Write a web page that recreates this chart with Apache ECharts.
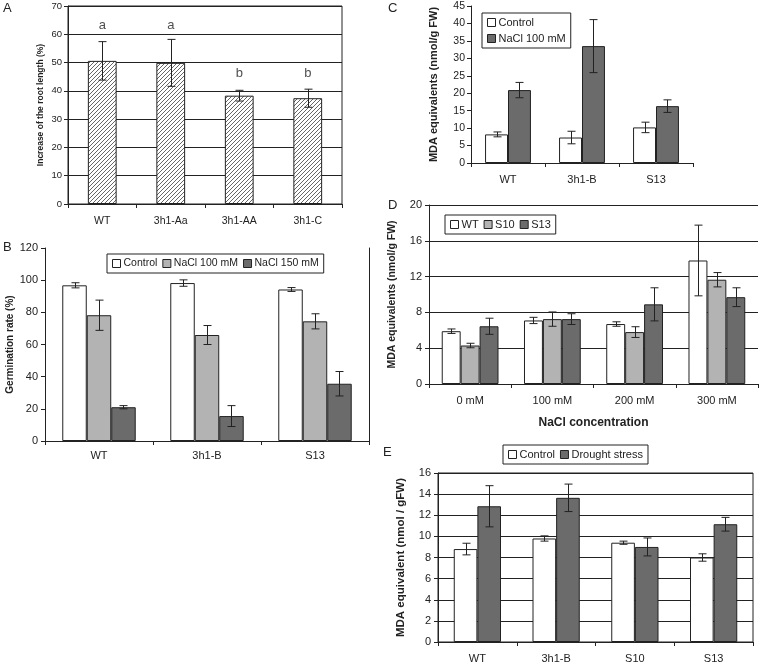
<!DOCTYPE html>
<html>
<head>
<meta charset="utf-8">
<script src="https://cdn.jsdelivr.net/npm/echarts@6/dist/echarts.min.js"></script>
<style>
	html, body { margin: 0; padding: 0; background: #fff; }
	#chart { width: 760px; height: 664px; }
</style>
</head>
<body>
<div id="chart"></div>
<script>
// A - root length
var catsA = ['WT', '3h1-Aa', '3h1-AA', '3h1-C'];
var rootInc = [50.6, 49.9, 38.3, 37.4];
var rootIncErr = [6.8, 8.3, 1.9, 3.2];
var lettersA = ['a', 'a', 'b', 'b'];
var lettersAY = [63, 63, 46.3, 46.3];

// B - germination
var catsB = ['WT', '3h1-B', 'S13'];
var germControl = [96.8, 98.2, 94.2];
var germControlErr = [1.6, 2.0, 1.2];
var germNaCl100 = [78.2, 65.9, 74.4];
var germNaCl100Err = [9.4, 5.9, 4.7];
var germNaCl150 = [21.0, 15.5, 35.6];
var germNaCl150Err = [1.0, 6.5, 7.6];

// C - MDA under salt
var catsC = ['WT', '3h1-B', 'S13'];
var mdaCControl = [8.2, 7.3, 10.2];
var mdaCControlErr = [0.7, 1.8, 1.5];
var mdaCNaCl = [20.9, 33.5, 16.3];
var mdaCNaClErr = [2.2, 7.6, 1.8];

// D - MDA vs NaCl concentration
var catsD = ['0 mM', '100 mM', '200 mM', '300 mM'];
var mdaDWT = [5.9, 7.1, 6.7, 13.8];
var mdaDWTErr = [0.25, 0.35, 0.25, 3.95];
var mdaDS10 = [4.3, 7.25, 5.8, 11.65];
var mdaDS10Err = [0.25, 0.8, 0.6, 0.8];
var mdaDS13 = [6.45, 7.25, 8.9, 9.7];
var mdaDS13Err = [0.9, 0.6, 1.85, 1.05];

// E - MDA drought
var catsE = ['WT', '3h1-B', 'S10', 'S13'];
var mdaEControl = [8.8, 9.8, 9.4, 8.0];
var mdaEControlErr = [0.55, 0.25, 0.15, 0.35];
var mdaEDrought = [12.85, 13.65, 9.0, 11.15];
var mdaEDroughtErr = [1.95, 1.3, 0.85, 0.65];

var FONT = '"Liberation Sans", Arial, sans-serif';
var INK = '#222';
var WHITE = '#ffffff';
var LIGHT = '#b3b3b3';
var DARK = '#6b6b6b';

// hatch pattern for panel A
var hatch = document.createElement('canvas');
hatch.width = 4;
hatch.height = 4;
var hctx = hatch.getContext('2d');
hctx.fillStyle = '#fff';
hctx.fillRect(0, 0, 4, 4);
hctx.strokeStyle = '#666';
hctx.lineWidth = 1;
hctx.beginPath();
hctx.moveTo(0, 4); hctx.lineTo(4, 0);
hctx.moveTo(-1, 1); hctx.lineTo(1, -1);
hctx.moveTo(3, 5); hctx.lineTo(5, 3);
hctx.stroke();

function bars(name, data, idx, color, gap) {
	return {
		name: name,
		type: 'bar',
		xAxisIndex: idx,
		yAxisIndex: idx,
		data: data,
		barGap: '0%',
		barCategoryGap: gap,
		itemStyle: { color: color, borderColor: INK, borderWidth: 1 },
		z: 2
	};
}

function errBars(vals, errs, idx, pos, n, gap) {
	var data = [];
	for(var i = 0; i < vals.length; i++) {
		data.push([i, vals[i], errs[i]]);
	}
	return {
		type: 'custom',
		xAxisIndex: idx,
		yAxisIndex: idx,
		data: data,
		clip: false,
		z: 5,
		silent: true,
		encode: { x: 0, y: 1 },
		renderItem: function(params, api) {
			var i = api.value(0), v = api.value(1), e = api.value(2);
			var band = api.size([1, 0])[0];
			var total = band * (1 - gap);
			var bw = total / n;
			var cx = Math.round(api.coord([i, v])[0] - total / 2 + bw * (pos + 0.5)) + 0.5;
			var yt = api.coord([i, v + e])[1];
			var yb = api.coord([i, v - e])[1];
			var st = { stroke: INK, lineWidth: 1 };
			return {
				type: 'group',
				children: [
					{ type: 'line', shape: { x1: cx, y1: yt, x2: cx, y2: yb }, style: st },
					{ type: 'line', shape: { x1: cx - 4, y1: yt, x2: cx + 4, y2: yt }, style: st },
					{ type: 'line', shape: { x1: cx - 4, y1: yb, x2: cx + 4, y2: yb }, style: st }
				]
			};
		}
	};
}

function catAxis(idx, cats, size, margin) {
	return {
		type: 'category',
		gridIndex: idx,
		data: cats,
		axisLine: { lineStyle: { color: INK, width: 1 } },
		axisTick: { show: true, length: 4, lineStyle: { color: INK } },
		axisLabel: { color: INK, fontSize: size, fontFamily: FONT, margin: margin }
	};
}

function valAxis(idx, max, step, size, margin, split, name, nameSize, nameGap) {
	return {
		type: 'value',
		gridIndex: idx,
		min: 0,
		max: max,
		interval: step,
		name: name,
		nameLocation: 'middle',
		nameGap: nameGap,
		nameTextStyle: { color: INK, fontSize: nameSize, fontWeight: 'bold', fontFamily: FONT },
		axisLine: { show: true, lineStyle: { color: INK, width: 1 } },
		axisTick: { show: true, length: 4, lineStyle: { color: INK } },
		axisLabel: { color: INK, fontSize: size, fontFamily: FONT, margin: margin },
		splitLine: { show: split, lineStyle: { color: INK, width: 1 } }
	};
}

function legendBox(names, left, top, orient, size) {
	return {
		data: names,
		left: left,
		top: top,
		orient: orient,
		icon: 'rect',
		itemWidth: 8,
		itemHeight: 8,
		itemGap: 5,
		padding: [4, 5],
		borderColor: INK,
		borderWidth: 1,
		backgroundColor: '#fff',
		itemStyle: { borderColor: INK, borderWidth: 1 },
		textStyle: { color: INK, fontSize: size, fontFamily: FONT, padding: [0, 0, 0, -2] },
		selectedMode: false
	};
}

var gapA = 0.58, gapB = 0.32, gapC = 0.38, gapD = 0.31, gapE = 0.40;

var yAxes = [
	valAxis(0, 70, 10, 9.5, 6, true, 'Increase of the root length (%)', 8.5, 23),
	valAxis(1, 120, 20, 11, 7, false, 'Germination rate (%)', 10, 25),
	valAxis(2, 45, 5, 10.5, 6, false, 'MDA equivalents (nmol/g FW)', 11, 32),
	valAxis(3, 20, 4, 11, 7, true, 'MDA equivalents (nmol/g FW)', 10.5, 31),
	valAxis(4, 16, 2, 11, 7, true, 'MDA equivalent (nmol / gFW)', 11.5, 31),
	// right border of B
	{
		type: 'value', gridIndex: 1, position: 'right', min: 0, max: 120,
		axisLine: { show: true, lineStyle: { color: INK } },
		axisTick: { show: false }, axisLabel: { show: false }, splitLine: { show: false }
	}
];

var xD = catAxis(3, catsD, 11, 11);
xD.name = 'NaCl concentration';
xD.nameLocation = 'middle';
xD.nameGap = 33;
xD.nameTextStyle = { color: INK, fontSize: 12, fontWeight: 'bold', fontFamily: FONT };

var option = {
	animation: false,
	backgroundColor: '#fff',
	textStyle: { fontFamily: FONT },
	grid: [
		{ left: 68, top: 6, width: 274, height: 198, show: true, borderColor: INK, borderWidth: 1 },
		{ left: 45, top: 248, width: 324, height: 193 },
		{ left: 471, top: 6, width: 222, height: 157 },
		{ left: 429, top: 205, width: 329, height: 179 },
		{ left: 438, top: 473, width: 315, height: 169, show: true, borderColor: INK, borderWidth: 1 }
	],
	xAxis: [
		catAxis(0, catsA, 10.5, 12),
		catAxis(1, catsB, 11, 9),
		catAxis(2, catsC, 11, 11),
		xD,
		catAxis(4, catsE, 11, 11)
	],
	yAxis: yAxes,
	legend: [
		legendBox(['Control', 'NaCl 100 mM', 'NaCl 150 mM'], 107, 254, 'horizontal', 10.5),
		legendBox(['Control', { name: 'NaCl 100 mM', itemStyle: { color: DARK } }], 482, 13, 'vertical', 11),
		legendBox(['WT', 'S10', 'S13'], 445, 215, 'horizontal', 11),
		legendBox(['Control', 'Drought stress'], 503, 445, 'horizontal', 11)
	],
	graphic: [
		{ type: 'text', left: 3, top: 2, style: { text: 'A', fontSize: 13, fill: INK, fontFamily: FONT } },
		{ type: 'text', left: 3, top: 241, style: { text: 'B', fontSize: 13, fill: INK, fontFamily: FONT } },
		{ type: 'text', left: 388, top: 2, style: { text: 'C', fontSize: 13, fill: INK, fontFamily: FONT } },
		{ type: 'text', left: 388, top: 199, style: { text: 'D', fontSize: 13, fill: INK, fontFamily: FONT } },
		{ type: 'text', left: 383, top: 446, style: { text: 'E', fontSize: 13, fill: INK, fontFamily: FONT } }
	],
	series: [
		// A
		bars('Root', rootInc, 0, { image: hatch, repeat: 'repeat' }, gapA * 100 + '%'),
		errBars(rootInc, rootIncErr, 0, 0, 1, gapA),
		{
			type: 'scatter',
			xAxisIndex: 0,
			yAxisIndex: 0,
			symbolSize: 0,
			data: lettersAY.map(function(y, i) { return [i, y]; }),
			label: {
				show: true,
				position: 'inside',
				color: INK,
				fontSize: 13,
				fontFamily: FONT,
				formatter: function(p) { return lettersA[p.dataIndex]; }
			},
			z: 6
		},
		// B
		bars('Control', germControl, 1, WHITE, gapB * 100 + '%'),
		bars('NaCl 100 mM', germNaCl100, 1, LIGHT, gapB * 100 + '%'),
		bars('NaCl 150 mM', germNaCl150, 1, DARK, gapB * 100 + '%'),
		errBars(germControl, germControlErr, 1, 0, 3, gapB),
		errBars(germNaCl100, germNaCl100Err, 1, 1, 3, gapB),
		errBars(germNaCl150, germNaCl150Err, 1, 2, 3, gapB),
		// C
		bars('Control', mdaCControl, 2, WHITE, gapC * 100 + '%'),
		bars('NaCl 100 mM', mdaCNaCl, 2, DARK, gapC * 100 + '%'),
		errBars(mdaCControl, mdaCControlErr, 2, 0, 2, gapC),
		errBars(mdaCNaCl, mdaCNaClErr, 2, 1, 2, gapC),
		// D
		bars('WT', mdaDWT, 3, WHITE, gapD * 100 + '%'),
		bars('S10', mdaDS10, 3, LIGHT, gapD * 100 + '%'),
		bars('S13', mdaDS13, 3, DARK, gapD * 100 + '%'),
		errBars(mdaDWT, mdaDWTErr, 3, 0, 3, gapD),
		errBars(mdaDS10, mdaDS10Err, 3, 1, 3, gapD),
		errBars(mdaDS13, mdaDS13Err, 3, 2, 3, gapD),
		// E
		bars('Control', mdaEControl, 4, WHITE, gapE * 100 + '%'),
		bars('Drought stress', mdaEDrought, 4, DARK, gapE * 100 + '%'),
		errBars(mdaEControl, mdaEControlErr, 4, 0, 2, gapE),
		errBars(mdaEDrought, mdaEDroughtErr, 4, 1, 2, gapE)
	]
};

var chart = echarts.init(document.getElementById('chart'), null, { renderer: 'canvas' });
chart.setOption(option);
</script>
</body>
</html>
